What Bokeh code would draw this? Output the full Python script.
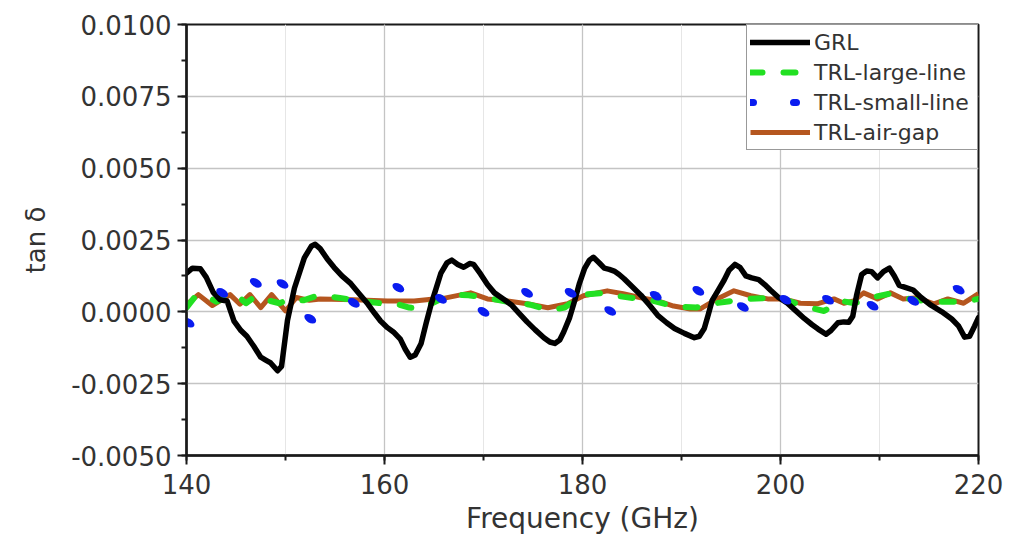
from bokeh.plotting import figure
from bokeh.models import (Range1d, SingleIntervalTicker, PrintfTickFormatter,
                          Legend, LegendItem)
from bokeh.embed import file_html
from bokeh.resources import INLINE

# ---------------- data ----------------
grl_f = [140.0, 140.6, 141.4, 142.0, 142.7, 143.4, 144.1, 144.8, 145.5, 146.1,
         146.8, 147.5, 148.0, 148.5, 149.2, 149.6, 150.2, 150.9, 151.9, 152.6,
         153.0, 153.5, 154.2, 154.9, 155.7, 156.6, 157.4, 158.3, 159.0, 159.6,
         160.3, 160.9, 161.6, 162.1, 162.6, 163.1, 163.7, 164.2, 164.7, 165.2,
         165.7, 166.3, 166.8, 167.4, 168.0, 168.6, 169.0, 169.7, 170.4, 171.1,
         172.0, 172.8, 173.6, 174.4, 175.2, 176.1, 176.7, 177.2, 177.7, 178.1,
         178.7, 179.2, 179.7, 180.2, 180.7, 181.1, 181.7, 182.2, 182.7, 183.2,
         183.7, 184.2, 185.0, 185.9, 186.8, 187.6, 188.5, 189.3, 190.3, 191.3,
         191.8, 192.3, 192.7, 193.1, 193.7, 194.3, 194.8, 195.4, 195.9, 196.5,
         197.1, 197.8, 198.4, 199.0, 199.8, 200.7, 201.5, 202.4, 203.2, 203.8,
         204.6, 205.1, 205.8, 206.4, 206.9, 207.3, 207.7, 208.2, 208.7, 209.2,
         209.8, 210.4, 211.0, 211.5, 212.0, 212.6, 213.4, 214.2, 215.2, 216.3,
         217.3, 218.0, 218.6, 219.1, 219.6, 220.0]
grl_v = [0.00135, 0.00152, 0.00150, 0.00120, 0.00068, 0.00042, 0.00038, -0.00032, -0.00065, -0.00085,
         -0.00120, -0.00158, -0.00168, -0.00178, -0.00205, -0.00190, -0.00030, 0.00082, 0.00188, 0.00228,
         0.00235, 0.00220, 0.00185, 0.00155, 0.00125, 0.00098, 0.00065, 0.00028, -0.00005, -0.00032,
         -0.00055, -0.00070, -0.00095, -0.00130, -0.00158, -0.00150, -0.00110, -0.00040, 0.00025, 0.00080,
         0.00135, 0.00170, 0.00180, 0.00165, 0.00155, 0.00168, 0.00165, 0.00132, 0.00095, 0.00066,
         0.00045, 0.00025, -0.00005, -0.00035, -0.00062, -0.00090, -0.00105, -0.00110, -0.00098, -0.00070,
         -0.00020, 0.00038, 0.00100, 0.00150, 0.00180, 0.00190, 0.00170, 0.00152, 0.00148, 0.00142,
         0.00130, 0.00115, 0.00088, 0.00058, 0.00022, -0.00012, -0.00038, -0.00058, -0.00075, -0.00090,
         -0.00085, -0.00058, -0.00010, 0.00040, 0.00075, 0.00110, 0.00145, 0.00165, 0.00155, 0.00125,
         0.00118, 0.00112, 0.00095, 0.00075, 0.00050, 0.00030, 0.00005, -0.00023, -0.00045, -0.00060,
         -0.00078, -0.00065, -0.00038, -0.00035, -0.00036, -0.00015, 0.00060, 0.00130, 0.00142, 0.00140,
         0.00118, 0.00140, 0.00152, 0.00125, 0.00092, 0.00085, 0.00076, 0.00050, 0.00023, 0.00000,
         -0.00025, -0.00050, -0.00088, -0.00085, -0.00050, -0.00020]

large_f = [140.0, 140.8, 141.8, 143.0, 144.0, 145.0, 146.0, 147.0, 148.2, 149.4,
           150.5, 151.8, 153.4, 155.5, 157.6, 159.6, 161.0, 162.5, 163.6, 164.8,
           166.6, 168.5, 170.4, 172.4, 174.7, 176.7, 178.2, 180.0, 181.8, 184.2,
           187.0, 189.3, 191.5, 193.0, 194.5, 196.4, 198.4, 200.3, 202.3, 204.4,
           206.1, 207.5, 209.2, 210.9, 213.0, 215.0, 217.4, 219.2, 220.0]
large_v = [0.00015, 0.00050, 0.00060, 0.00035, 0.00050, 0.00060, 0.00030, 0.00055, 0.00040, 0.00030,
           0.00045, 0.00040, 0.00058, 0.00048, 0.00038, 0.00030, 0.00030, 0.00015, 0.00010, 0.00030,
           0.00060, 0.00058, 0.00048, 0.00035, 0.00025, 0.00005, 0.00015, 0.00060, 0.00065, 0.00052,
           0.00040, 0.00018, 0.00015, 0.00028, 0.00035, 0.00045, 0.00048, 0.00045, 0.00020, 0.00003,
           0.00038, 0.00030, 0.00050, 0.00062, 0.00045, 0.00035, 0.00035, 0.00040, 0.00045]

small_f = [140.2, 143.6, 147.0, 149.7, 152.5, 156.9, 161.4, 165.7, 170.0, 174.4,
           178.8, 182.8, 187.4, 191.7, 196.2, 200.5, 204.8, 209.3, 213.4, 218.0]
small_v = [-0.00038, 0.00066, 0.00101, 0.00097, -0.00024, 0.00031, 0.00084, 0.00045, 0.00000, 0.00066,
           0.00066, 0.00003, 0.00056, 0.00073, 0.00017, 0.00042, 0.00042, 0.00021, 0.00038, 0.00077]

gap_f = [140.0, 141.2, 142.6, 144.4, 145.4, 146.4, 147.5, 148.6, 150.0, 151.1,
         152.4, 153.5, 156.9, 160.3, 163.0, 165.0, 165.7, 168.7, 170.4, 172.4,
         174.4, 176.5, 178.5, 180.1, 182.5, 184.1, 185.9, 187.6, 189.2, 190.9,
         191.9, 193.6, 195.3, 197.0, 198.7, 200.3, 202.0, 203.7, 205.4, 206.4,
         207.4, 208.4, 209.8, 211.1, 212.4, 213.8, 215.5, 216.9, 218.5, 220.0]
gap_v = [0.00025, 0.00060, 0.00022, 0.00060, 0.00027, 0.00060, 0.00015, 0.00060, 0.00003, 0.00050,
         0.00040, 0.00045, 0.00042, 0.00038, 0.00038, 0.00045, 0.00045, 0.00066, 0.00045, 0.00038,
         0.00028, 0.00014, 0.00028, 0.00056, 0.00073, 0.00063, 0.00049, 0.00038, 0.00020, 0.00010,
         0.00010, 0.00045, 0.00073, 0.00056, 0.00045, 0.00045, 0.00030, 0.00028, 0.00045, 0.00030,
         0.00038, 0.00066, 0.00045, 0.00066, 0.00045, 0.00049, 0.00028, 0.00045, 0.00030, 0.00063]

x_title = "Frequency (GHz)"
y_title = "tan \u03b4"
labels = ["GRL", "TRL-large-line", "TRL-small-line", "TRL-air-gap"]

# ---------------- figure ----------------
FONT = "DejaVu Sans"
TXT = "#333333"

p = figure(width=1022, height=540, output_backend="svg", toolbar_location=None,
           x_range=Range1d(140, 220), y_range=Range1d(-0.005, 0.01),
           min_border_left=186, min_border_right=44, min_border_top=24,
           min_border_bottom=85)
p.background_fill_color = "white"
p.border_fill_color = "white"
p.outline_line_color = "#1a1a1a"
p.outline_line_width = 2

p.xaxis.ticker = SingleIntervalTicker(interval=20, num_minor_ticks=2)
p.yaxis.ticker = SingleIntervalTicker(interval=0.0025, num_minor_ticks=2)
p.yaxis.formatter = PrintfTickFormatter(format="%.4f")

for ax in (p.xaxis[0], p.yaxis[0]):
    ax.axis_line_color = "#1a1a1a"
    ax.axis_line_width = 2.5
    ax.major_tick_line_color = "#1a1a1a"
    ax.major_tick_line_width = 2
    ax.minor_tick_line_color = "#1a1a1a"
    ax.minor_tick_line_width = 2
    ax.major_tick_in = 0
    ax.major_tick_out = 9
    ax.minor_tick_in = 0
    ax.minor_tick_out = 5
    ax.major_label_text_font = FONT
    ax.major_label_text_font_size = "26px"
    ax.major_label_text_color = TXT
    ax.axis_label_text_font = FONT
    ax.axis_label_text_font_style = "normal"
    ax.axis_label_text_color = TXT

p.xaxis.axis_label = x_title
p.xaxis.axis_label_text_font_size = "28px"
p.xaxis.major_label_standoff = 9
p.xaxis.axis_label_standoff = 5
p.yaxis.axis_label = y_title
p.yaxis.axis_label_text_font_size = "26px"
p.yaxis.major_label_standoff = 6
p.yaxis.axis_label_standoff = 17

p.xgrid.grid_line_color = "#c4c4c4"
p.ygrid.grid_line_color = "#c4c4c4"
p.xgrid.grid_line_width = 1.3
p.ygrid.grid_line_width = 1.3
p.xgrid.minor_grid_line_color = "#e6e6e6"
p.xgrid.minor_grid_line_width = 1

# ---------------- series ----------------
BLUE = "#0a1cf0"
r_gap = p.line(gap_f, gap_v, line_color="#b5561f", line_width=5, line_join="round")
r_large = p.line(large_f, large_v, line_color="#22e022", line_width=6,
                 line_dash="12 21", line_cap="round", line_join="round")
r_grl = p.line(grl_f, grl_v, line_color="black", line_width=5.5, line_join="round",
               line_cap="round")
p.ellipse(small_f, small_v, width=13, height=8, width_units="screen",
          height_units="screen", angle=-0.55, fill_color=BLUE, line_color=None)
# legend-only renderer for the dotted series (one NaN point: draws nothing in the plot)
r_small = p.line(x=[small_f[0]], y=[float("nan")], line_color=BLUE, line_width=7,
                 line_dash="3 40", line_cap="round")

legend = Legend(items=[LegendItem(label=labels[0], renderers=[r_grl]),
                       LegendItem(label=labels[1], renderers=[r_large]),
                       LegendItem(label=labels[2], renderers=[r_small]),
                       LegendItem(label=labels[3], renderers=[r_gap])],
                location="top_right", margin=0, padding=3, spacing=2,
                glyph_width=60, glyph_height=28, label_height=28, label_width=160,
                label_standoff=4, border_line_color="#333333",
                border_line_width=1.5, background_fill_alpha=1.0,
                label_text_font=FONT, label_text_font_size="22px",
                label_text_color=TXT)
p.add_layout(legend)

open("out.html", "w").write(file_html(p, INLINE))
